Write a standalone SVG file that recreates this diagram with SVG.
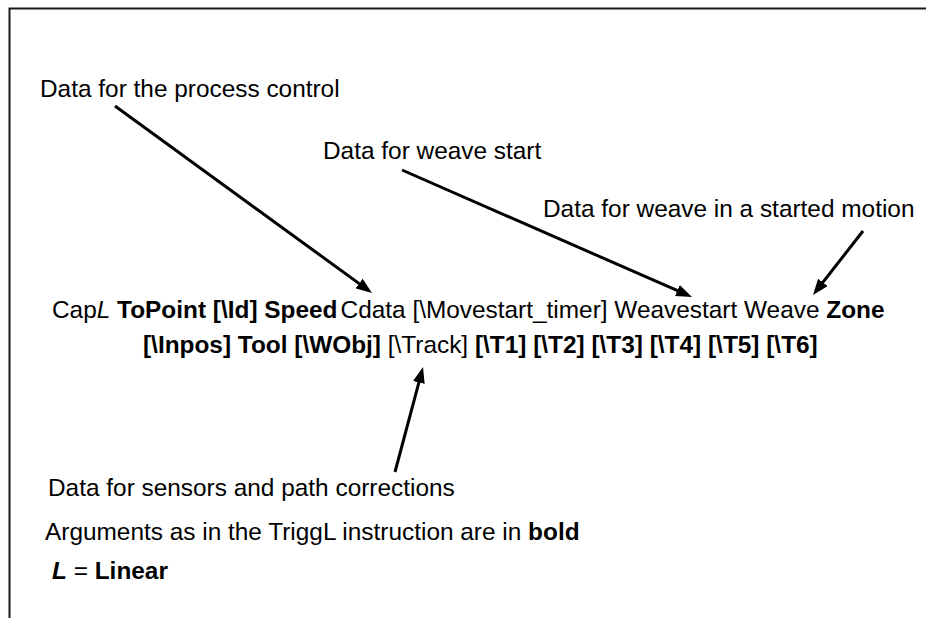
<svg xmlns="http://www.w3.org/2000/svg" width="926" height="618" viewBox="0 0 926 618">
  <style>
    text { font-family: "Liberation Sans", Arial, sans-serif; font-size: 24.4px; fill: #000; }
    .b { font-weight: bold; }
    .i { font-style: italic; }
    .frame { stroke: #1a1a1a; stroke-width: 2; fill: none; }
    .conn { stroke: #000; stroke-width: 3; fill: none; marker-end: url(#head); }
  </style>
  <defs>
    <marker id="head" markerUnits="userSpaceOnUse" markerWidth="16" markerHeight="12" refX="4" refY="6" orient="auto">
      <path d="M0,0 L16,6 L0,12 z" fill="#000"/>
    </marker>
  </defs>

  <!-- frame: top and left edges -->
  <path class="frame" d="M9.5,618 V8.5 H926"/>

  <!-- instruction syntax -->
  <g id="syntax">
    <text x="52" y="318">Cap<tspan class="i">L</tspan> <tspan class="b">ToPoint [\Id] Speed</tspan><tspan dx="3">Cdata [\Movestart_timer] Weavestart Weave </tspan><tspan class="b">Zone</tspan></text>
    <text x="143" y="353"><tspan class="b">[\Inpos] Tool [\WObj]</tspan> [\Track] <tspan class="b">[\T1] [\T2] [\T3] [\T4] [\T5] [\T6]</tspan></text>
  </g>

  <!-- callout labels -->
  <g id="label-process">
    <text x="40" y="97">Data for the process control</text>
  </g>
  <g id="label-weavestart">
    <text x="323" y="159">Data for weave start</text>
  </g>
  <g id="label-weave">
    <text x="543" y="217">Data for weave in a started motion</text>
  </g>
  <g id="label-track">
    <text x="48" y="496">Data for sensors and path corrections</text>
  </g>

  <!-- notes -->
  <g id="notes">
    <text x="45" y="540">Arguments as in the TriggL instruction are in <tspan class="b">bold</tspan></text>
    <text x="52" y="579"><tspan class="b i">L</tspan> = <tspan class="b">Linear</tspan></text>
  </g>

  <!-- pointers from labels to arguments -->
  <g id="connectors">
    <line class="conn" x1="115" y1="106" x2="362.3" y2="285.9"/>
    <line class="conn" x1="402" y1="170" x2="681" y2="292.2"/>
    <line class="conn" x1="863" y1="231" x2="820.4" y2="285.5"/>
    <line class="conn" x1="395" y1="472" x2="419.9" y2="378.6"/>
  </g>
</svg>
